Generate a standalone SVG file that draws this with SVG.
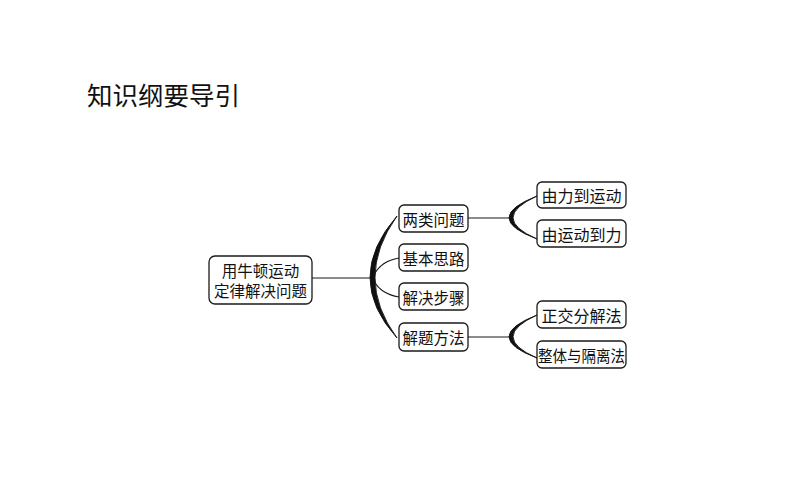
<svg xmlns="http://www.w3.org/2000/svg" width="794" height="495" viewBox="0 0 794 495">
<style>
.box{fill:#fff;stroke:#1a1a1a;stroke-width:1.3}
.t{font-family:"Noto Sans CJK SC","Noto Sans",sans-serif;font-size:15.5px;fill:#111;text-anchor:middle;dominant-baseline:central}
.t2{font-size:16px}
.ln{fill:none;stroke:#1a1a1a;stroke-width:1.2}
.br{fill:#111;stroke:#111;stroke-width:0.9}
</style>
<rect width="794" height="495" fill="#fff"/>
<text x="87" y="105" font-family="'Noto Sans CJK SC','Noto Sans',sans-serif" font-size="25.5" fill="#111">知识纲要导引</text>
<g id="connectors">
<line class="ln" x1="312" y1="278" x2="373" y2="278"/>
<path class="br" d="M397,216 Q343,278 397,338 Q353,278 397,216 Z"/>
<path class="ln" d="M374,275 Q381,261 399,258"/>
<path class="ln" d="M374,281 Q381,294 399,297"/>
<line class="ln" x1="468" y1="218" x2="511" y2="218"/>
<path class="br" d="M537,196 Q481,218 537,239 Q489,218 537,196 Z"/>
<line class="ln" x1="468" y1="337" x2="511" y2="337"/>
<path class="br" d="M537,315 Q481,337 537,358 Q489,337 537,315 Z"/>
</g>
<g id="root">
<rect class="box" x="209" y="256" width="103" height="48" rx="6"/>
<text class="t" x="260.5" y="270" font-size="16">用牛顿运动</text>
<text class="t" x="260.5" y="290" font-size="16">定律解决问题</text>
</g>
<g id="n1"><rect class="box" x="399" y="205" width="69" height="27" rx="5"/><text class="t" x="433.5" y="218.5">两类问题</text></g>
<g id="n2"><rect class="box" x="399" y="244" width="69" height="27" rx="5"/><text class="t" x="433.5" y="257.5">基本思路</text></g>
<g id="n3"><rect class="box" x="399" y="283" width="69" height="27" rx="5"/><text class="t" x="433.5" y="296.5">解决步骤</text></g>
<g id="n4"><rect class="box" x="399" y="323" width="69" height="28" rx="5"/><text class="t" x="433.5" y="337">解题方法</text></g>
<g id="n5"><rect class="box" x="537" y="182" width="89" height="26" rx="5"/><text class="t t2" x="581.5" y="195">由力到运动</text></g>
<g id="n6"><rect class="box" x="537" y="220" width="89" height="27" rx="5"/><text class="t t2" x="581.5" y="233.5">由运动到力</text></g>
<g id="n7"><rect class="box" x="537" y="301" width="89" height="27" rx="5"/><text class="t t2" x="581.5" y="314.5">正交分解法</text></g>
<g id="n8"><rect class="box" x="537" y="341" width="89" height="27" rx="5"/><text class="t t2" x="581.5" y="354.5" textLength="87" lengthAdjust="spacingAndGlyphs">整体与隔离法</text></g>
</svg>
